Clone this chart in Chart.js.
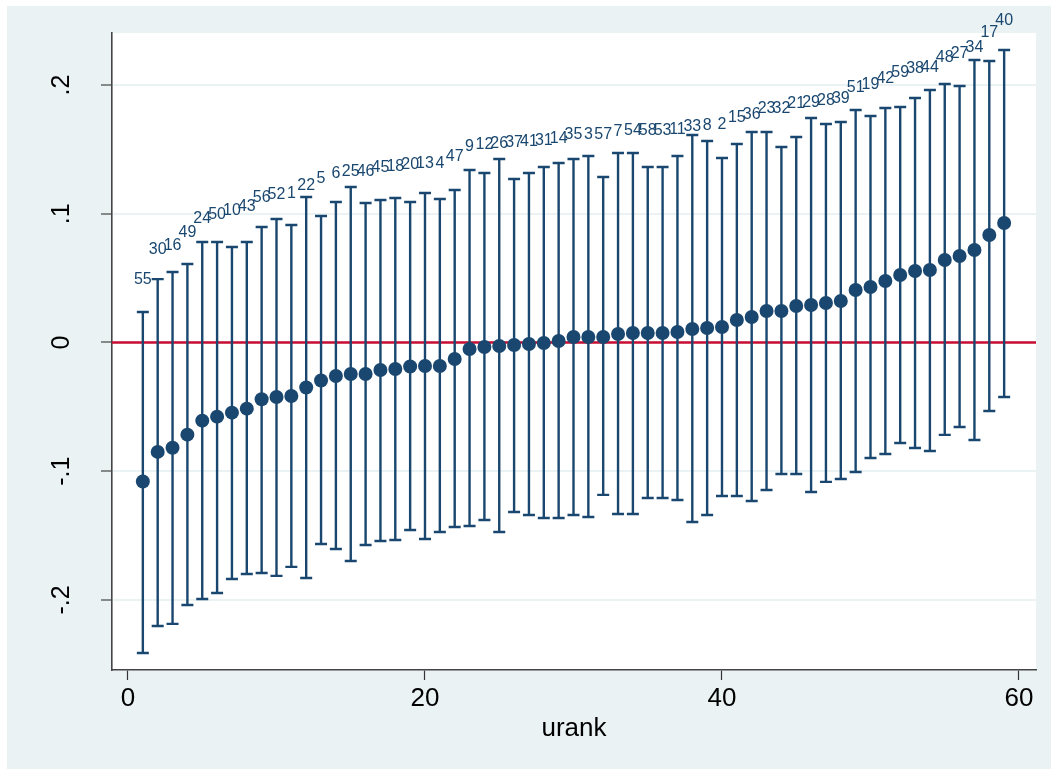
<!DOCTYPE html>
<html>
<head>
<meta charset="utf-8">
<script src="https://cdn.jsdelivr.net/npm/chart.js@4.4.1/dist/chart.umd.min.js"></script>
<style>
  html, body { margin: 0; padding: 0; background: #fff; }
  #wrap { width: 1051px; height: 769px; }
</style>
</head>
<body>
<div id="wrap"><canvas id="chart" width="1051" height="769"></canvas></div>
<script>
// rank on x, estimate with 95% interval, unit id as marker label
const ranks = [];
for (let r = 1; r <= 59; r++) ranks.push(r);

const estimates = [
  -0.1080, -0.0850, -0.0818, -0.0716, -0.0607, -0.0576, -0.0545, -0.0514, -0.0441, -0.0424,
  -0.0416, -0.0350, -0.0295, -0.0260, -0.0245, -0.0245, -0.0214, -0.0206, -0.0187, -0.0183,
  -0.0183, -0.0128, -0.0051, -0.0035, -0.0027, -0.0019, -0.0012, -0.0004,  0.0012,  0.0043,
   0.0043,  0.0043,  0.0066,  0.0074,  0.0074,  0.0074,  0.0082,  0.0105,  0.0113,  0.0120,
   0.0175,  0.0198,  0.0245,  0.0245,  0.0283,  0.0291,  0.0307,  0.0322,  0.0408,  0.0431,
   0.0478,  0.0524,  0.0555,  0.0563,  0.0641,  0.0672,  0.0718,  0.0835,  0.0928
];
const upperCI = [
   0.0237,  0.0492,  0.0548,  0.0610,  0.0781,  0.0781,  0.0742,  0.0781,  0.0897,  0.0959,
   0.0913,  0.1130,  0.0983,  0.1091,  0.1208,  0.1083,  0.1107,  0.1122,  0.1091,  0.1161,
   0.1115,  0.1184,  0.1340,  0.1316,  0.1425,  0.1270,  0.1316,  0.1363,  0.1394,  0.1425,
   0.1449,  0.1285,  0.1472,  0.1472,  0.1363,  0.1363,  0.1449,  0.1612,  0.1565,  0.1433,
   0.1542,  0.1635,  0.1635,  0.1518,  0.1596,  0.1744,  0.1697,  0.1713,  0.1806,  0.1759,
   0.1821,  0.1829,  0.1899,  0.1961,  0.2008,  0.1992,  0.2194,  0.2186,  0.2272
];
const lowerCI = [
  -0.2412, -0.2202, -0.2186, -0.2039, -0.1992, -0.1946, -0.1837, -0.1798, -0.1790, -0.1813,
  -0.1743, -0.1829, -0.1565, -0.1604, -0.1697, -0.1573, -0.1542, -0.1534, -0.1456, -0.1526,
  -0.1472, -0.1433, -0.1425, -0.1379, -0.1472, -0.1317, -0.1340, -0.1363, -0.1363, -0.1340,
  -0.1355, -0.1184, -0.1332, -0.1332, -0.1208, -0.1208, -0.1223, -0.1394, -0.1340, -0.1192,
  -0.1192, -0.1231, -0.1146, -0.1021, -0.1021, -0.1161, -0.1083, -0.1060, -0.1006, -0.0897,
  -0.0866, -0.0781, -0.0819, -0.0843, -0.0718, -0.0656, -0.0757, -0.0532, -0.0423
];
const idLabels = [
  55, 30, 16, 49, 24, 50, 10, 43, 56, 52,
   1, 22,  5,  6, 25, 46, 45, 18, 20, 13,
   4, 47,  9, 12, 26, 37, 41, 31, 14, 35,
   3, 57,  7, 54, 58, 53, 11, 33,  8,  2,
  15, 36, 23, 32, 21, 29, 28, 39, 51, 19,
  42, 59, 38, 44, 48, 27, 34, 17, 40
];

const xTicks = [0, 20, 40, 60];
const yTicks = [-0.2, -0.1, 0, 0.1, 0.2];
const refValue = 0;

const NAVY = '#1a476f';
const BG = '#eaf2f3';
const FONT = '"Liberation Sans", Arial, sans-serif';
const labelLift = 0.157;   // marker labels sit this far above the estimate

function fmtY(v) {
  if (Math.abs(v) < 1e-9) return '0';
  return (v < 0 ? '-' : '') + String(Math.abs(v).toFixed(1)).replace(/^0/, '');
}

const backdrop = {
  id: 'backdrop',
  beforeDraw(chart) {
    const ctx = chart.ctx, a = chart.chartArea;
    ctx.save();
    ctx.fillStyle = '#fff';
    ctx.fillRect(0, 0, chart.width, chart.height);
    ctx.fillStyle = BG;
    ctx.fillRect(7, 6, chart.width - 7, chart.height - 6);
    ctx.fillStyle = '#fff';
    ctx.fillRect(a.left, a.top, a.right - a.left, a.bottom - a.top);
    ctx.restore();
  }
};

const ciBars = {
  id: 'ciBars',
  beforeDatasetsDraw(chart) {
    const ctx = chart.ctx, xs = chart.scales.x, ys = chart.scales.y, a = chart.chartArea;
    ctx.save();
    // reference line
    const y0 = ys.getPixelForValue(refValue);
    ctx.strokeStyle = '#c80c32';
    ctx.lineWidth = 2.5;
    ctx.beginPath();
    ctx.moveTo(a.left, y0);
    ctx.lineTo(a.right, y0);
    ctx.stroke();
    // capped spikes
    ctx.strokeStyle = NAVY;
    ctx.lineWidth = 2.4;
    ranks.forEach((r, i) => {
      const x = xs.getPixelForValue(r);
      const yl = ys.getPixelForValue(lowerCI[i]);
      const yu = ys.getPixelForValue(upperCI[i]);
      ctx.beginPath();
      ctx.moveTo(x, yl); ctx.lineTo(x, yu);
      ctx.moveTo(x - 6, yl); ctx.lineTo(x + 6, yl);
      ctx.moveTo(x - 6, yu); ctx.lineTo(x + 6, yu);
      ctx.stroke();
    });
    ctx.restore();
  },
  afterDatasetsDraw(chart) {
    const ctx = chart.ctx, xs = chart.scales.x, ys = chart.scales.y;
    ctx.save();
    ctx.fillStyle = NAVY;
    ctx.font = '16px ' + FONT;
    ctx.textAlign = 'center';
    ctx.textBaseline = 'middle';
    ranks.forEach((r, i) => {
      ctx.fillText(String(idLabels[i]), xs.getPixelForValue(r), ys.getPixelForValue(estimates[i] + labelLift));
    });
    ctx.restore();
  },
  afterDraw(chart) {
    // rotated y tick labels, Stata style
    const ctx = chart.ctx, ys = chart.scales.y;
    ctx.save();
    ctx.fillStyle = '#000';
    ctx.font = '25px ' + FONT;
    ctx.textAlign = 'center';
    ctx.textBaseline = 'alphabetic';
    ys.ticks.forEach(t => {
      ctx.save();
      ctx.translate(69, ys.getPixelForValue(t.value));
      ctx.rotate(-Math.PI / 2);
      ctx.fillText(fmtY(t.value), 0, 0);
      ctx.restore();
    });
    ctx.restore();
  }
};

new Chart(document.getElementById('chart'), {
  type: 'scatter',
  data: {
    datasets: [{
      data: ranks.map((r, i) => ({ x: r, y: estimates[i] })),
      pointRadius: 7,
      pointHoverRadius: 7,
      backgroundColor: NAVY,
      borderWidth: 0
    }]
  },
  options: {
    responsive: false,
    animation: false,
    events: [],
    layout: { padding: { top: 33, right: 15, left: 0, bottom: 0 } },
    plugins: { legend: { display: false }, tooltip: { enabled: false } },
    scales: {
      x: {
        type: 'linear',
        min: -1.077,
        max: 61.145,
        afterBuildTicks: s => { s.ticks = xTicks.map(v => ({ value: v })); },
        afterFit: s => { s.height = 99; },
        ticks: { color: '#000', font: { family: FONT, size: 26 }, padding: 3, maxRotation: 0, callback: v => String(v) },
        grid: { drawOnChartArea: false, drawTicks: true, tickLength: 10, tickColor: '#333', tickWidth: 1.2 },
        border: { display: true, color: '#444', width: 1.6 },
        title: { display: true, text: 'urank', color: '#000', font: { family: FONT, size: 26 }, padding: { top: 0, bottom: 25 } }
      },
      y: {
        type: 'linear',
        min: -0.2544,
        max: 0.2404,
        afterBuildTicks: s => { s.ticks = yTicks.map(v => ({ value: v })); },
        afterFit: s => { s.width = 112; },
        ticks: { display: false },
        grid: { color: BG, lineWidth: 2, drawTicks: true, tickLength: 11, tickColor: '#444', tickWidth: 1.2 },
        border: { display: true, color: '#444', width: 1.6 }
      }
    }
  },
  plugins: [backdrop, ciBars]
});
</script>
</body>
</html>
